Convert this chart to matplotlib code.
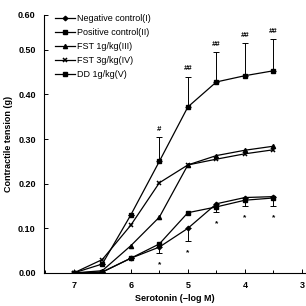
import numpy as np
import matplotlib
matplotlib.use("Agg")
import matplotlib.pyplot as plt

plt.rcParams['font.family'] = ['Liberation Sans', 'DejaVu Sans']

# serotonin concentration, -log M
conc = [7, 6.5, 6, 5.5, 5, 4.5, 4, 3.5]

neg_ctrl = [0.0, 0.002, 0.033, 0.058, 0.100, 0.155, 0.169, 0.171]
neg_err = [0, 0, 0, 0.013, 0.028, 0.018, 0.019, 0.021]
pos_ctrl = [0.0, 0.020, 0.130, 0.250, 0.372, 0.428, 0.442, 0.453]
pos_err = [0, 0, 0, 0.055, 0.068, 0.066, 0.077, 0.078]
fst1 = [0.0, 0.005, 0.061, 0.125, 0.242, 0.263, 0.275, 0.284]
fst3 = [0.0, 0.030, 0.107, 0.202, 0.242, 0.255, 0.267, 0.276]
dd1 = [0.0, 0.002, 0.033, 0.065, 0.135, 0.148, 0.163, 0.168]

# significance marks
hash_marks = ["", "", "", "#", "##", "##", "##", "##"]
star_marks = ["", "", "", "*", "*", "*", "*", "*"]

xticks = [7, 6, 5, 4, 3]
yticks = [0.0, 0.1, 0.2, 0.3, 0.4, 0.5, 0.6]


# the original y axis is squeezed above 0.50
def fwd(y):
    y = np.asarray(y, dtype=float)
    return np.where(y <= 0.5, y, 0.5 + (y - 0.5) * 0.78)


def inv(y):
    y = np.asarray(y, dtype=float)
    return np.where(y <= 0.5, y, 0.5 + (y - 0.5) / 0.78)


fig = plt.figure(figsize=(3.06, 3.06), dpi=100)
ax = fig.add_axes([0.144, 0.108, 0.856, 0.843])
ax.set_yscale('function', functions=(fwd, inv))

lw = 0.9
ax.errorbar(conc, neg_ctrl, yerr=[neg_err, [0] * 8], fmt='none', ecolor='k',
            elinewidth=0.7, capsize=2, capthick=0.7)
ax.errorbar(conc, pos_ctrl, yerr=[[0] * 8, pos_err], fmt='none', ecolor='k',
            elinewidth=0.7, capsize=2, capthick=0.7)

ax.plot(conc, neg_ctrl, '-', color='k', lw=lw, marker='D', ms=2.3,
        label='Negative control(I)')
ax.plot(conc, pos_ctrl, '-', color='k', lw=lw, marker='s', ms=3.3,
        label='Positive control(II)')
ax.plot(conc, fst1, '-', color='k', lw=lw, marker='^', ms=3,
        label='FST 1g/kg(III)')
ax.plot(conc, fst3, '-', color='k', lw=lw, marker='x', ms=3.3, mew=1.1,
        label='FST 3g/kg(IV)')
ax.plot(conc, dd1, '-', color='k', lw=lw, marker='s', ms=2.8,
        label='DD 1g/kg(V)')

for x, v, e, m in zip(conc, pos_ctrl, pos_err, hash_marks):
    if m:
        ax.annotate(m, (x, v + e), xytext=(0, 3), textcoords='offset points',
                    ha='center', va='bottom', fontsize=5.5, fontweight='bold',
                    fontstyle='italic')
for x, v, e, m in zip(conc, neg_ctrl, neg_err, star_marks):
    if m:
        ax.annotate(m, (x, v - e), xytext=(0, -6), textcoords='offset points',
                    ha='center', va='top', fontsize=6, fontweight='bold')

ax.set_xlim(7.52, 2.93)
ax.set_ylim(0, 0.6)
ax.set_xticks(xticks)
ax.set_xticklabels([str(t) for t in xticks])
ax.set_xticks(np.arange(7.5, 3.0, -0.5), minor=True)
ax.set_yticks(yticks)
ax.set_yticklabels(['%.2f' % t for t in yticks])
ax.yaxis.set_minor_locator(matplotlib.ticker.NullLocator())
ax.tick_params(direction='in', length=3, width=0.7, labelsize=6.5, pad=6)
ax.tick_params(which='minor', direction='in', length=2, width=0.7)
for lab in ax.get_xticklabels() + ax.get_yticklabels():
    lab.set_fontweight('bold')
ax.spines['top'].set_visible(False)
ax.spines['right'].set_visible(False)
ax.spines['left'].set_linewidth(0.8)
ax.spines['bottom'].set_linewidth(0.8)

ax.set_ylabel('Contractile tension (g)', fontsize=6.5, fontweight='bold', labelpad=4)
ax.set_xlabel('Serotonin (\u2212log M)', fontsize=6.5, fontweight='bold', labelpad=3)

ax.legend(loc='upper left', bbox_to_anchor=(0.02, 1.025), frameon=False,
          fontsize=6.5, handlelength=2.3, handletextpad=0.2, labelspacing=0.55,
          borderaxespad=0.2)

fig.savefig('out.png', dpi=100)
